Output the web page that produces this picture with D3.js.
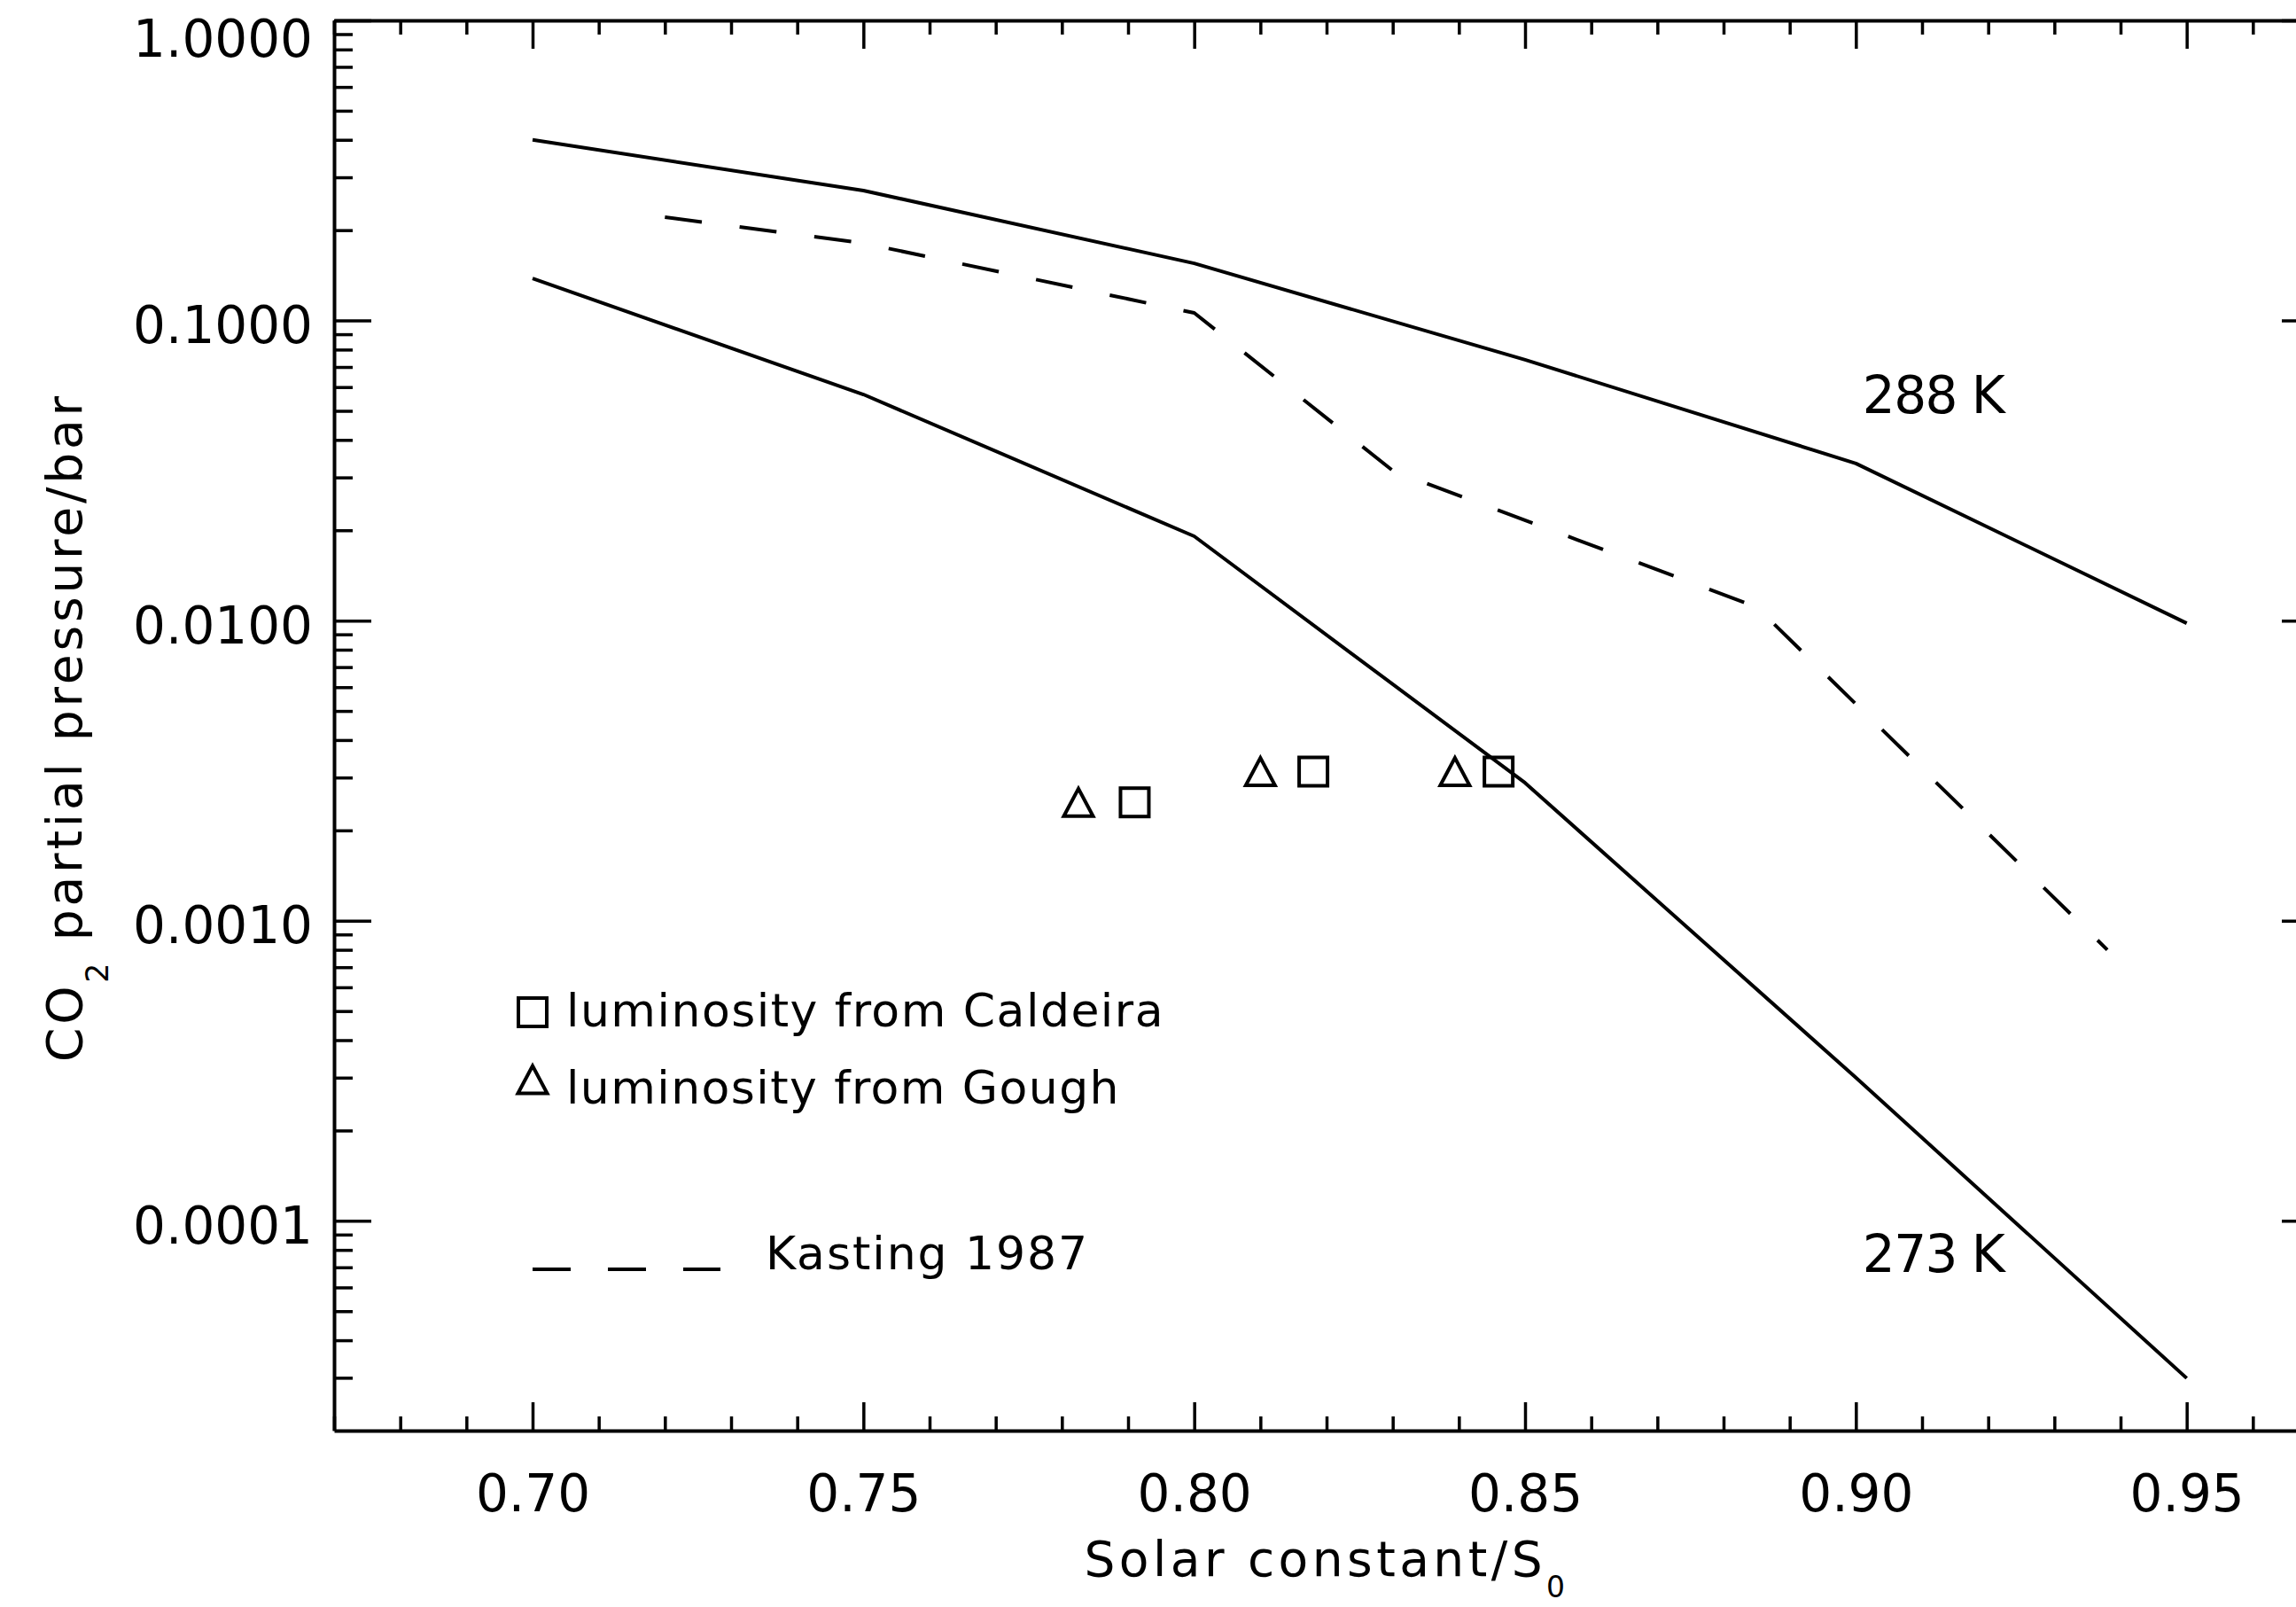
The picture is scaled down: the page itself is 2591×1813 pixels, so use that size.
<!DOCTYPE html>
<html><head><meta charset="utf-8">
<script src="https://cdn.jsdelivr.net/npm/d3@7"></script>
<style>html,body{margin:0;padding:0;background:#fff;}</style>
</head><body>
<svg id="c" width="2591" height="1813"></svg>
<script>
// ---- data ----
const solar = [0.70, 0.75, 0.80, 0.85, 0.90, 0.95];
const co2_288K = [0.40, 0.271, 0.155, 0.074, 0.0334, 0.0098];
const co2_273K = [0.138, 0.0567, 0.0191, 0.00288, 0.0003, 0.0000299];
const kastingSolar = [0.72, 0.75, 0.80, 0.83, 0.885, 0.938];
const kastingCO2 = [0.221, 0.181, 0.106, 0.0316, 0.0111, 0.0008];
const caldeiraSolar = [0.791, 0.818, 0.846];
const goughSolar = [0.7825, 0.810, 0.8394];
const pointCO2 = [0.00248, 0.00314, 0.00314];
const xMajorTicks = [0.70, 0.75, 0.80, 0.85, 0.90, 0.95];
const xTickLabels = ["0.70", "0.75", "0.80", "0.85", "0.90", "0.95"];
const yMajorTicks = [1e-4, 1e-3, 1e-2, 1e-1, 1];
const yTickLabels = ["0.0001", "0.0010", "0.0100", "0.1000", "1.0000"];
const legendLabels = ["luminosity from Caldeira", "luminosity from Gough", "Kasting 1987"];
const curveLabels = ["288 K", "273 K"];

// ---- layout ----
const L = 377, R = 2617, T = 23, B = 1614;
const FONT = "DejaVu Sans";
const svg = d3.select("#c");
svg.append("rect").attr("width", 2591).attr("height", 1813).attr("fill", "#fff");

const x = d3.scaleLinear([0.67, 0.97], [L, R]);
const y = d3.scaleLog([2e-5, 1], [B, T]);

const xMinor = d3.range(67, 98).map(v => v / 100).filter(v => !xMajorTicks.some(m => Math.abs(m - v) < 1e-9));
const yMinor = [];
for (let e = -5; e <= -1; e++) for (let m = 2; m <= 9; m++) {
  const v = m * Math.pow(10, e);
  if (v > 2e-5 * 1.0001 && v < 1) yMinor.push(v);
}

function styleAxis(g, keepDomain) {
  g.attr("font-family", FONT).attr("font-size", 58);
  if (keepDomain) g.select(".domain").attr("stroke-width", 4).attr("stroke", "#000");
  else g.select(".domain").remove();
  g.selectAll(".tick line").attr("stroke-width", 3.5).attr("stroke", "#000");
  g.selectAll(".tick text").attr("fill", "#000");
}

// bottom
svg.append("g").attr("transform", `translate(0,${B})`)
  .call(d3.axisBottom(x).tickValues(xMajorTicks).tickFormat((d, i) => xTickLabels[i])
    .tickSizeInner(-32).tickSizeOuter(0).tickPadding(50))
  .call(g => styleAxis(g, true));
svg.append("g").attr("transform", `translate(0,${B})`)
  .call(d3.axisBottom(x).tickValues(xMinor).tickFormat("").tickSizeInner(-16).tickSizeOuter(0))
  .call(g => styleAxis(g, false));
// top
svg.append("g").attr("transform", `translate(0,${T})`)
  .call(d3.axisTop(x).tickValues(xMajorTicks).tickFormat("").tickSizeInner(-32).tickSizeOuter(0))
  .call(g => styleAxis(g, true));
svg.append("g").attr("transform", `translate(0,${T})`)
  .call(d3.axisTop(x).tickValues(xMinor).tickFormat("").tickSizeInner(-16).tickSizeOuter(0))
  .call(g => styleAxis(g, false));
// left
const yl = svg.append("g").attr("transform", `translate(${L},0)`)
  .call(d3.axisLeft(y).tickValues(yMajorTicks).tickFormat((d, i) => yTickLabels[i])
    .tickSizeInner(-42).tickSizeOuter(0).tickPadding(24))
  .call(g => styleAxis(g, true));
yl.selectAll(".tick text").attr("dy", d => d >= 1 ? "0.69em" : "0.43em");
svg.append("g").attr("transform", `translate(${L},0)`)
  .call(d3.axisLeft(y).tickValues(yMinor).tickFormat("").tickSizeInner(-21).tickSizeOuter(0))
  .call(g => styleAxis(g, false));
// right
svg.append("g").attr("transform", `translate(${R},0)`)
  .call(d3.axisRight(y).tickValues(yMajorTicks).tickFormat("").tickSizeInner(-42).tickSizeOuter(0))
  .call(g => styleAxis(g, true));
svg.append("g").attr("transform", `translate(${R},0)`)
  .call(d3.axisRight(y).tickValues(yMinor).tickFormat("").tickSizeInner(-21).tickSizeOuter(0))
  .call(g => styleAxis(g, false));

// ---- curves ----
const line = d3.line().x(d => x(d[0])).y(d => y(d[1]));
const plot = svg.append("g");
plot.append("path").datum(solar.map((s, i) => [s, co2_288K[i]])).attr("d", line)
  .attr("fill", "none").attr("stroke", "#000").attr("stroke-width", 4).attr("stroke-linejoin", "round");
plot.append("path").datum(solar.map((s, i) => [s, co2_273K[i]])).attr("d", line)
  .attr("fill", "none").attr("stroke", "#000").attr("stroke-width", 4).attr("stroke-linejoin", "round");
plot.append("path").datum(kastingSolar.map((s, i) => [s, kastingCO2[i]])).attr("d", line)
  .attr("fill", "none").attr("stroke", "#000").attr("stroke-width", 4)
  .attr("stroke-dasharray", "42,43").attr("stroke-linejoin", "round");

// ---- markers ----
const SQ = 32, TW = 16.5, TH = 15.5;
function square(g, cx, cy) {
  g.append("rect").attr("x", cx - SQ / 2).attr("y", cy - SQ / 2).attr("width", SQ).attr("height", SQ)
    .attr("fill", "none").attr("stroke", "#000").attr("stroke-width", 4);
}
function triangle(g, cx, cy) {
  g.append("path").attr("d", `M${cx - TW},${cy + TH}L${cx},${cy - TH}L${cx + TW},${cy + TH}Z`)
    .attr("fill", "none").attr("stroke", "#000").attr("stroke-width", 4).attr("stroke-linejoin", "miter");
}
caldeiraSolar.forEach((s, i) => square(plot, x(s), y(pointCO2[i])));
goughSolar.forEach((s, i) => triangle(plot, x(s), y(pointCO2[i])));

// ---- text helpers ----
function fit(sel, target) {
  const n = sel.text().length;
  for (let k = 0; k < 3; k++) {
    const w = sel.node().getBBox().width;
    const cur = parseFloat(sel.attr("letter-spacing") || 0);
    sel.attr("letter-spacing", cur + (target - w) / Math.max(1, n - 1));
  }
}
function label(txt, px, py, size, target, anchor) {
  const t = svg.append("text").attr("x", px).attr("y", py).attr("font-family", FONT)
    .attr("font-size", size).attr("fill", "#000").attr("text-anchor", anchor || "start").text(txt);
  if (target) fit(t, target);
  return t;
}

// curve labels
label(curveLabels[0], x(0.901), 466, 58, 163);
label(curveLabels[1], x(0.901), 1435, 58, 163);

// legend
square(svg, 601, 1142);
label(legendLabels[0], 639, 1158, 52, 675);
triangle(svg, 601, 1218);
label(legendLabels[1], 639, 1245, 52, 625);
svg.append("line").attr("x1", 601).attr("x2", 813).attr("y1", 1432).attr("y2", 1432)
  .attr("stroke", "#000").attr("stroke-width", 4).attr("stroke-dasharray", "43,42");
label(legendLabels[2], 864, 1432, 52, 365);

// axis titles
const xt = svg.append("text").attr("transform", `translate(${(L + R) / 2},1778)`)
  .attr("text-anchor", "middle").attr("font-family", FONT).attr("font-size", 55).attr("fill", "#000");
xt.append("tspan").text("Solar constant/S");
xt.append("tspan").attr("font-size", 33).attr("dy", 24).text("0");
fit(xt, 547);

const ytl = svg.append("text").attr("transform", `translate(92,${(T + B) / 2 + 2}) rotate(-90)`)
  .attr("text-anchor", "middle").attr("font-family", FONT).attr("font-size", 55).attr("fill", "#000");
ytl.append("tspan").text("CO");
ytl.append("tspan").attr("font-size", 35).attr("dy", 30).text("2");
ytl.append("tspan").attr("dy", -30).text(" partial pressure/bar");
fit(ytl, 755);
</script>
</body></html>
